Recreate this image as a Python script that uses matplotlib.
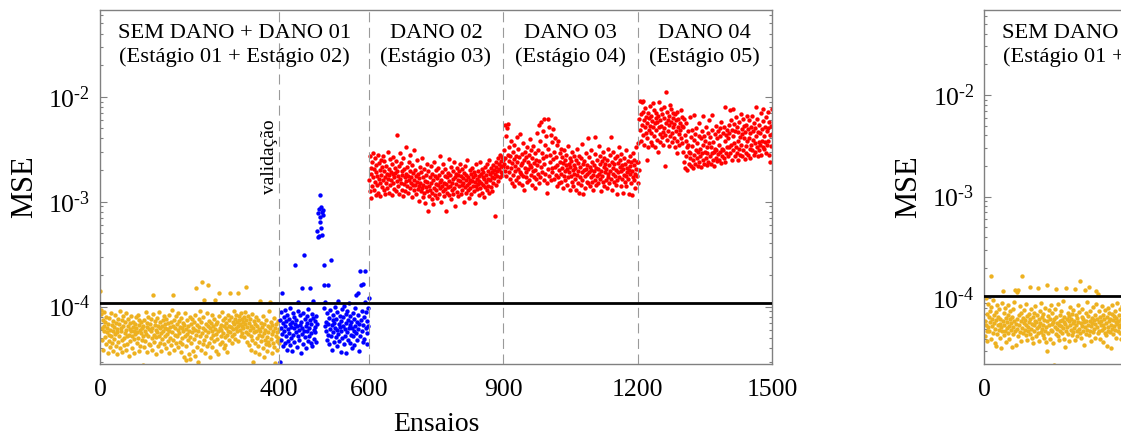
import numpy as np
import matplotlib.pyplot as plt
from matplotlib.ticker import LogLocator, NullFormatter, FuncFormatter

plt.rcParams['font.family'] = ['Liberation Serif', 'DejaVu Serif']
plt.rcParams['mathtext.fontset'] = 'custom'
plt.rcParams['mathtext.rm'] = 'Liberation Serif'
plt.rcParams['mathtext.it'] = 'Liberation Serif:italic'
plt.rcParams['mathtext.bf'] = 'Liberation Serif:bold'

# MSE por ensaio, grafico da esquerda
# sem dano + dano 01 (ensaios 1-400), unidades de 1e-6
mse_treino = [
    140, 92, 85, 48, 62, 75, 39, 58, 88, 66, 51, 72, 44, 80, 57, 63, 36, 69, 54, 47,
    78, 41, 60, 52, 86, 45, 67, 38, 59, 73, 49, 64, 55, 83, 42, 70, 61, 35, 57, 76,
    46, 68, 53, 90, 40, 62, 58, 74, 48, 37, 65, 81, 50, 43, 71, 56, 39, 60, 87, 52,
    44, 66, 77, 54, 34, 61, 70, 47, 58, 82, 53, 40, 64, 72, 49, 59, 36, 68, 55, 79,
    63, 45, 57, 84, 50, 38, 67, 74, 42, 60, 56, 71, 48, 62, 28, 53, 66, 41, 75, 58,
    47, 89, 55, 64, 37, 70, 52, 80, 44, 61, 69, 43, 58, 76, 50, 63, 39, 85, 130, 54,
    46, 67, 73, 51, 60, 35, 78, 57, 65, 42, 88, 53, 62, 45, 71, 56, 38, 66, 49, 74,
    59, 82, 44, 63, 52, 68, 40, 77, 55, 61, 47, 70, 58, 36, 84, 64, 50, 72, 43, 93,
    57, 128, 66, 48, 75, 39, 62, 54, 81, 45, 69, 52, 60, 87, 41, 73, 56, 46, 64, 37,
    78, 50, 63, 44, 70, 58, 33, 67, 53, 86, 42, 61, 31, 74, 55, 48, 66, 35, 59, 80,
    51, 32, 68, 45, 77, 57, 38, 62, 49, 72, 60, 34, 83, 54, 150, 41, 67, 30, 58, 76,
    46, 64, 52, 91, 39, 71, 170, 56, 44, 63, 79, 48, 115, 60, 36, 68, 53, 87, 42, 65,
    160, 57, 73, 45, 62, 33, 70, 50, 84, 59, 41, 66, 54, 76, 47, 115, 61, 38, 69, 55,
    72, 49, 58, 35, 81, 135, 63, 44, 67, 52, 60, 88, 46, 74, 56, 40, 65, 51, 78, 43,
    62, 70, 54, 37, 83, 59, 48, 75, 66, 57, 135, 64, 80, 52, 45, 72, 61, 90, 55, 68,
    49, 77, 63, 84, 58, 71, 47, 66, 135, 74, 82, 60, 69, 53, 86, 65, 76, 56, 72, 62,
    79, 51, 68, 88, 57, 155, 74, 46, 64, 81, 55, 70, 43, 77, 60, 39, 66, 52, 85, 48,
    30, 63, 73, 57, 45, 68, 37, 59, 80, 50, 66, 42, 75, 54, 61, 35, 112, 58, 47, 70,
    53, 64, 40, 82, 56, 33, 69, 48, 60, 44, 74, 51, 38, 65, 57, 46, 90, 43, 110, 62,
    49, 71, 55, 36, 67, 45, 59, 78, 41, 63, 29, 52, 68, 47, 57, 39, 73, 50, 61, 45,
]
# validacao (ensaios 401-600), unidades de 1e-6
mse_validacao = [
    30, 75, 62, 48, 88, 55, 135, 70, 42, 80, 58, 66, 45, 92, 52, 73, 39, 84, 61, 47,
    77, 56, 68, 43, 98, 64, 50, 71, 38, 86, 54, 62, 79, 46, 69, 250, 57, 74, 41, 65,
    90, 52, 110, 60, 48, 83, 67, 36, 72, 55, 150, 63, 44, 87, 58, 310, 76, 51, 66, 40,
    81, 59, 70, 47, 95, 62, 53, 150, 74, 45, 68, 56, 85, 42, 78, 112, 60, 49, 73, 64,
    57, 82, 46, 69, 520, 460, 780, 850, 470, 640, 720, 1150, 560, 880, 800, 480, 830, 740, 250, 160,
    98, 65, 110, 58, 72, 48, 86, 54, 160, 69, 44, 78, 61, 92, 52, 280, 67, 39, 74, 57,
    83, 46, 70, 63, 99, 51, 76, 42, 88, 60, 112, 55, 68, 47, 81, 64, 37, 73, 58, 95,
    50, 66, 79, 44, 102, 61, 53, 85, 36, 70, 57, 90, 48, 74, 62, 108, 45, 67, 82, 54,
    71, 40, 63, 86, 52, 77, 59, 43, 96, 65, 130, 56, 72, 48, 135, 61, 84, 38, 69, 53,
    220, 75, 160, 58, 91, 46, 165, 67, 80, 49, 220, 110, 62, 88, 56, 73, 44, 97, 65, 120,
]
# danos 02, 03 e 04 (ensaios 601-1500), unidades de 1e-5
mse_dano = [
    160, 270, 125, 210, 108, 185, 240, 140, 290, 170, 130, 205, 155, 260, 115, 190, 225, 145, 175, 280,
    120, 165, 235, 150, 200, 112, 250, 180, 138, 215, 275, 160, 128, 195, 245, 172, 118, 220, 150, 185,
    135, 300, 165, 205, 122, 178, 255, 143, 192, 160, 228, 115, 182, 150, 265, 170, 132, 210, 188, 125,
    245, 157, 198, 430, 140, 176, 220, 118, 290, 166, 152, 235, 130, 195, 180, 112, 260, 148, 205, 170,
    125, 185, 330, 158, 140, 215, 175, 120, 240, 162, 198, 135, 280, 150, 172, 110, 225, 188, 145, 310,
    160, 128, 200, 143, 175, 118, 250, 155, 132, 185, 140, 168, 102, 215, 150, 125, 190, 135, 260, 110,
    172, 145, 120, 205, 158, 98, 180, 138, 230, 126, 155, 82, 195, 142, 112, 170, 130, 220, 150, 105,
    185, 122, 160, 95, 240, 136, 175, 115, 200, 148, 128, 168, 108, 210, 145, 180, 118, 155, 270, 135,
    162, 100, 192, 140, 125, 230, 150, 112, 175, 133, 205, 146, 82, 170, 120, 188, 138, 255, 158, 115,
    142, 178, 106, 215, 152, 128, 195, 165, 118, 240, 136, 170, 90, 185, 148, 210, 124, 160, 180, 112,
    195, 140, 230, 156, 118, 175, 145, 205, 130, 168, 152, 100, 188, 138, 220, 160, 122, 178, 145, 250,
    128, 172, 150, 108, 200, 162, 135, 185, 118, 158, 210, 142, 170, 125, 192, 155, 98, 180, 140, 226,
    165, 132, 198, 148, 115, 175, 158, 240, 136, 185, 150, 205, 122, 170, 145, 190, 110, 163, 215, 138,
    178, 155, 230, 128, 195, 165, 142, 250, 120, 182, 160, 210, 138, 190, 172, 125, 225, 150, 200, 168,
    73, 185, 240, 145, 215, 175, 195, 260, 158, 230, 205, 280, 170, 245, 190, 220, 265, 178, 250, 212,
    230, 310, 195, 540, 260, 175, 420, 215, 500, 280, 550, 190, 245, 330, 165, 270, 210, 380, 150, 235,
    300, 180, 255, 140, 350, 220, 195, 275, 160, 410, 240, 170, 320, 205, 150, 265, 190, 440, 225, 185,
    285, 145, 235, 360, 175, 250, 130, 300, 210, 170, 265, 190, 330, 155, 240, 205, 280, 160, 395, 225,
    180, 310, 215, 145, 260, 195, 340, 170, 235, 135, 290, 200, 250, 165, 455, 225, 185, 310, 150, 540,
    245, 380, 170, 580, 215, 290, 190, 470, 260, 160, 610, 230, 350, 185, 270, 420, 150, 120, 610, 205,
    320, 175, 510, 240, 280, 160, 430, 210, 370, 190, 255, 490, 165, 300, 215, 405, 180, 265, 140, 345,
    225, 170, 380, 200, 150, 290, 240, 185, 320, 155, 210, 265, 135, 235, 175, 310, 195, 250, 160, 225,
    280, 145, 205, 340, 170, 230, 190, 130, 260, 215, 175, 245, 155, 300, 200, 140, 225, 185, 270, 165,
    210, 130, 250, 180, 320, 150, 195, 235, 120, 275, 170, 215, 145, 260, 190, 355, 160, 230, 118, 200,
    245, 175, 135, 290, 205, 155, 225, 185, 150, 400, 190, 265, 140, 215, 170, 310, 200, 155, 240, 180,
    130, 225, 195, 285, 160, 410, 210, 145, 250, 175, 205, 150, 340, 185, 230, 165, 270, 125, 195, 245,
    175, 300, 155, 215, 140, 260, 190, 230, 160, 205, 250, 135, 185, 320, 170, 225, 150, 280, 195, 410,
    165, 240, 128, 210, 185, 300, 155, 230, 175, 260, 145, 200, 270, 160, 118, 235, 190, 330, 170, 215,
    250, 140, 195, 285, 165, 225, 122, 205, 180, 260, 155, 230, 175, 310, 140, 210, 190, 245, 165, 200,
    118, 275, 185, 220, 150, 240, 115, 195, 290, 170, 225, 160, 250, 185, 135, 205, 330, 175, 240, 150,
    240, 360, 200, 610, 920, 480, 690, 380, 900, 540, 720, 430, 920, 600, 350, 510, 780, 450, 640, 250,
    560, 400, 700, 330, 620, 480, 820, 530, 370, 660, 450, 590, 350, 870, 510, 420, 740, 560, 330, 630,
    480, 700, 390, 580, 300, 650, 520, 890, 440, 600, 370, 760, 530, 410, 690, 460, 350, 620, 500, 800,
    430, 220, 1100, 560, 390, 710, 470, 600, 340, 540, 650, 830, 420, 580, 760, 450, 370, 620, 510, 700,
    400, 550, 330, 680, 470, 600, 380, 720, 290, 520, 610, 440, 350, 560, 480, 750, 400, 530, 360, 640,
    520, 300, 610, 240, 430, 210, 380, 270, 560, 330, 200, 350, 470, 230, 300, 260, 640, 290, 410, 220,
    340, 480, 250, 210, 390, 670, 280, 440, 230, 310, 500, 260, 360, 220, 300, 420, 240, 560, 320, 270,
    215, 400, 290, 470, 250, 350, 650, 230, 420, 300, 380, 260, 520, 225, 330, 290, 450, 240, 360, 600,
    275, 410, 230, 330, 670, 290, 480, 250, 370, 300, 220, 440, 320, 260, 530, 310, 245, 400, 285, 470,
    350, 250, 500, 300, 420, 235, 580, 320, 270, 450, 310, 520, 260, 380, 240, 790, 430, 290, 480, 330,
    400, 270, 540, 330, 450, 750, 290, 600, 350, 480, 250, 420, 770, 310, 550, 360, 270, 470, 330, 640,
    290, 520, 380, 250, 460, 320, 580, 280, 410, 680, 350, 490, 270, 440, 610, 310, 400, 530, 255, 460,
    340, 540, 290, 650, 380, 490, 280, 400, 600, 320, 450, 260, 510, 350, 660, 310, 470, 390, 280, 560,
    360, 500, 300, 790, 420, 330, 610, 270, 460, 370, 540, 310, 450, 350, 700, 280, 490, 380, 590, 330,
    770, 420, 320, 520, 370, 640, 290, 470, 350, 720, 380, 500, 280, 580, 430, 240, 530, 340, 760, 440,
]
# grafico da direita: sem dano + dano 01 (ensaios 1-310), unidades de 1e-6
mse_treino_2 = [
    42, 60, 100, 55, 70, 38, 48, 88, 52, 65, 47, 75, 58, 40, 82, 166, 53, 62, 45, 95,
    57, 68, 36, 50, 34, 73, 61, 44, 85, 54, 66, 49, 78, 56, 41, 63, 32, 52, 90, 47,
    119, 59, 71, 43, 55, 80, 48, 64, 37, 58, 51, 69, 45, 86, 53, 40, 62, 74, 49, 57,
    33, 66, 52, 79, 44, 60, 92, 47, 120, 56, 35, 115, 63, 50, 42, 120, 68, 54, 83, 46,
    59, 38, 72, 51, 166, 64, 45, 57, 76, 49, 61, 43, 87, 55, 39, 67, 52, 48, 70, 58,
    44, 63, 130, 50, 78, 41, 56, 65, 36, 54, 72, 47, 60, 84, 42, 58, 51, 69, 125, 45,
    62, 53, 38, 74, 57, 46, 89, 50, 66, 43, 55, 70, 41, 61, 48, 80, 52, 37, 135, 30,
    59, 45, 67, 54, 76, 40, 63, 49, 85, 56, 47, 71, 58, 36, 62, 22, 52, 78, 44, 123,
    65, 50, 57, 42, 88, 55, 39, 68, 48, 60, 53, 74, 45, 61, 51, 93, 40, 58, 66, 33,
    56, 47, 125, 63, 52, 72, 44, 59, 38, 67, 54, 81, 49, 62, 43, 70, 57, 46, 77, 51,
    60, 39, 122, 55, 68, 48, 64, 42, 86, 58, 50, 73, 45, 146, 57, 41, 66, 53, 79, 47,
    62, 35, 58, 120, 52, 71, 44, 60, 49, 91, 55, 67, 43, 130, 59, 48, 75, 53, 38, 64,
    57, 82, 46, 61, 50, 69, 41, 56, 88, 118, 52, 63, 45, 110, 58, 74, 47, 66, 40, 55,
    60, 49, 84, 54, 37, 68, 51, 62, 45, 76, 57, 43, 34, 65, 52, 80, 48, 59, 71, 46,
    63, 55, 32, 70, 50, 86, 44, 61, 53, 67, 49, 74, 58, 41, 64, 56, 90, 47, 60, 52,
    69, 45, 78, 55, 62, 40, 83, 58, 50, 66,
]

limiar_esq = 1.08e-4
limiar_dir = 1.04e-4

divisoes = [400, 600, 900, 1200]
ticks_x = [0, 400, 600, 900, 1200, 1500]
pos_estagios = [300, 750, 1050, 1350]
nomes_estagios = [
    'SEM DANO + DANO 01\n(Estágio 01 + Estágio 02)',
    'DANO 02\n(Estágio 03)',
    'DANO 03\n(Estágio 04)',
    'DANO 04\n(Estágio 05)',
]

laranja = '#EDB120'
cinza = '#808080'


def rotulo_log(v, pos):
    expo = int(round(np.log10(v)))
    sinal = '\u2010' if expo < 0 else ''
    return r'$\mathregular{10^{%s%d}}$' % (sinal, abs(expo))


def formata_eixo(ax, ylim, limiar):
    ax.set_yscale('log')
    ax.set_xlim(0, 1500)
    ax.set_ylim(*ylim)
    ax.set_xticks(ticks_x)
    ax.yaxis.set_major_locator(LogLocator(base=10, numticks=12))
    ax.yaxis.set_major_formatter(FuncFormatter(rotulo_log))
    ax.yaxis.set_minor_locator(LogLocator(base=10, subs=np.arange(2, 10), numticks=30))
    ax.yaxis.set_minor_formatter(NullFormatter())
    ax.tick_params(axis='y', which='both', direction='in', left=True, right=True,
                   color=cinza, labelsize=18.5, pad=7)
    ax.tick_params(axis='y', which='major', length=5, width=0.8)
    ax.tick_params(axis='y', which='minor', length=2.5, width=0.8)
    ax.tick_params(axis='x', direction='in', length=0, labelsize=18.5, pad=11)
    for s in ax.spines.values():
        s.set_color(cinza)
        s.set_linewidth(1.0)
    ax.axhline(limiar, color='black', lw=2.0, zorder=4)
    for d in divisoes:
        ax.axvline(d, color='#9a9a9a', lw=0.8, ls=(0, (9, 5)), zorder=3)
    trans = ax.get_xaxis_transform()
    for p, nome in zip(pos_estagios, nomes_estagios):
        ax.text(p, 0.90, nome, transform=trans, ha='center', va='center',
                fontsize=16.2, linespacing=1.25)
    ax.set_ylabel('MSE', fontsize=22)
    ax.yaxis.label.set_va('center')
    ax.yaxis.set_label_coords(-0.112, 0.5)


fig = plt.figure(figsize=(11.21, 4.42), dpi=100)

ax1 = fig.add_axes([100 / 1121, 78 / 442, 672 / 1121, 354 / 442])
x1 = np.arange(1, len(mse_treino) + 1)
x2 = np.arange(401, 401 + len(mse_validacao))
x3 = np.arange(601, 601 + len(mse_dano))
ax1.scatter(x1, np.array(mse_treino) * 1e-6, s=10, color=laranja, linewidths=0, zorder=2)
ax1.scatter(x2, np.array(mse_validacao) * 1e-6, s=10, color='#0000FF', linewidths=0, zorder=2)
ax1.scatter(x3, np.array(mse_dano) * 1e-5, s=10, color='#FF0000', linewidths=0, zorder=2)
formata_eixo(ax1, (2.84e-5, 6.7e-2), limiar_esq)
ax1.text(378, 0.585, 'validação', transform=ax1.get_xaxis_transform(), rotation=90,
         ha='center', va='center', fontsize=14)
ax1.set_xlabel('Ensaios', fontsize=20)
ax1.xaxis.label.set_va('center')
ax1.xaxis.set_label_coords(0.5, -0.172)

ax2 = fig.add_axes([984.3 / 1121, 78 / 442, 672 / 1121, 354 / 442])
x4 = np.arange(1, len(mse_treino_2) + 1)
ax2.scatter(x4, np.array(mse_treino_2) * 1e-6, s=10, color=laranja, linewidths=0, zorder=2)
formata_eixo(ax2, (2.25e-5, 6.86e-2), limiar_dir)

fig.savefig('out.png', dpi=100)
